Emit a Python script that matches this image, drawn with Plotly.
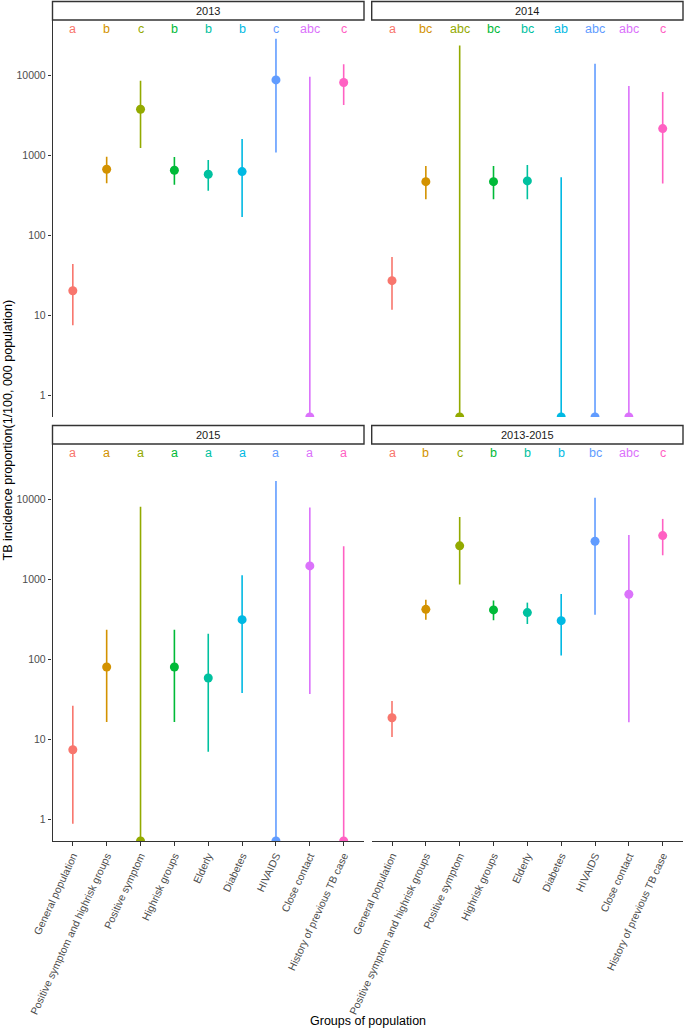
import plotly.graph_objects as go

categories = ["General population", "Positive symptom and highrisk groups", "Positive symptom",
              "Highrisk groups", "Elderly", "Diabetes", "HIVAIDS", "Close contact",
              "History of previous TB case"]
colors = ["#F8766D", "#D39200", "#93AA00", "#00BA38", "#00C19F", "#00B9E3", "#619CFF", "#DB72FB", "#FF61C3"]
panels = ["2013", "2014", "2015", "2013-2015"]

# 0 means zero incidence (drawn at the bottom edge of the log axis)
est_2013 = [20.5, 676, 3800, 657, 586, 631, 8830, 0, 8180]
low_2013 = [7.6, 452, 1248, 434, 365, 171, 1090, 0, 4300]
up_2013 = [44.3, 971, 8590, 964, 883, 1617, 28750, 9640, 13880]
let_2013 = ["a", "b", "c", "b", "b", "b", "c", "abc", "c"]

est_2014 = [27.4, 473, 0, 473, 483, 0, 0, 0, 2175]
low_2014 = [11.9, 285, 0, 285, 285, 0, 0, 0, 447]
up_2014 = [54.2, 743, 23700, 743, 765, 537, 14000, 7430, 6250]
let_2014 = ["a", "bc", "abc", "bc", "bc", "ab", "abc", "abc", "c"]

est_2015 = [7.5, 81, 0, 81, 59, 316, 0, 1483, 0]
low_2015 = [0.89, 16.6, 0, 16.6, 7.1, 38.3, 0, 37.3, 0]
up_2015 = [26.6, 237, 8110, 237, 211, 1132, 17100, 7940, 2610]
let_2015 = ["a", "a", "a", "a", "a", "a", "a", "a", "a"]

est_all = [18.8, 425, 2640, 418, 387, 307, 3010, 656, 3550]
low_all = [10.8, 316, 866, 310, 279, 113, 365, 16.5, 2013]
up_all = [30.4, 562, 6070, 547, 516, 663, 10500, 3615, 5730]
let_all = ["a", "b", "c", "b", "b", "b", "bc", "abc", "c"]

y_tickvals = [1, 10, 100, 1000, 10000]
y_ticktext = ["1", "10", "100", "1000", "10000"]

data = {
    "2013": (est_2013, low_2013, up_2013, let_2013),
    "2014": (est_2014, low_2014, up_2014, let_2014),
    "2015": (est_2015, low_2015, up_2015, let_2015),
    "2013-2015": (est_all, low_all, up_all, let_all),
}

W, H = 685, 1032
YMIN, YMAX = -0.265, 4.694
FLOOR = 10 ** YMIN

# panel geometry in pixels
xdom_px = [(52.5, 364.0), (371.7, 683.0)]
ydom_px = [(20.0, 417.0), (444.0, 841.0)]
strip_px = [(1.5, 20.0), (425.5, 444.0)]

FONT = "Liberation Sans, Arial, Helvetica, sans-serif"

def fx(px):
    return px / W

def fy(px):
    return 1 - px / H

fig = go.Figure()
layout = dict(width=W, height=H, margin=dict(l=0, r=0, t=0, b=0, pad=0),
              template="none", autosize=False,
              paper_bgcolor="white", plot_bgcolor="white", showlegend=False,
              font=dict(family=FONT, color="#4D4D4D"))
shapes = []
annotations = []

for i, name in enumerate(panels):
    row, col = divmod(i, 2)
    ax = "" if i == 0 else str(i + 1)
    xa, ya = "x" + ax, "y" + ax
    est, low, up, lets = data[name]
    for j, cat in enumerate(categories):
        lo = low[j] if low[j] > 0 else FLOOR
        hi = up[j] if up[j] > 0 else FLOOR
        fig.add_trace(go.Scatter(x=[cat, cat], y=[lo, hi], mode="lines",
                                 line=dict(color=colors[j], width=1.6),
                                 xaxis=xa, yaxis=ya, hoverinfo="skip"))
    pts = [e if e > 0 else FLOOR for e in est]
    fig.add_trace(go.Scatter(x=categories, y=pts, mode="markers",
                             marker=dict(color=colors, size=9, line=dict(width=0)),
                             xaxis=xa, yaxis=ya, cliponaxis=True))
    for j, cat in enumerate(categories):
        annotations.append(dict(x=cat, y=1, xref=xa, yref=ya + " domain", text=lets[j],
                                showarrow=False, yshift=-8.5, yanchor="middle",
                                font=dict(size=12.5, color=colors[j], family=FONT)))
    x0, x1 = xdom_px[col]
    y0, y1 = ydom_px[row]
    bottom = row == 1
    left = col == 0
    layout["xaxis" + ax] = dict(domain=[fx(x0), fx(x1)], anchor=ya, type="category",
                                categoryorder="array", categoryarray=categories,
                                range=[-0.6, 8.6], showgrid=False, zeroline=False,
                                automargin=False,
                                showline=bottom, linecolor="#333333", linewidth=1.4,
                                ticks="outside" if bottom else "", ticklen=3.5,
                                tickcolor="#333333", tickwidth=1.1,
                                showticklabels=bottom, tickangle=-65,
                                tickfont=dict(size=10.5, color="#4D4D4D", family=FONT))
    layout["yaxis" + ax] = dict(domain=[fy(y1), fy(y0)], anchor=xa, type="log",
                                range=[YMIN, YMAX], showgrid=False, zeroline=False,
                                automargin=False,
                                showline=left, linecolor="#333333", linewidth=1.4,
                                ticks="outside" if left else "", ticklen=3.5,
                                tickcolor="#333333", tickwidth=1.1,
                                tickvals=y_tickvals, ticktext=y_ticktext,
                                showticklabels=left,
                                tickfont=dict(size=10.5, color="#4D4D4D", family=FONT))
    s0, s1 = strip_px[row]
    shapes.append(dict(type="rect", xref="paper", yref="paper",
                       x0=fx(x0), x1=fx(x1), y0=fy(s1), y1=fy(s0),
                       line=dict(color="#333333", width=1.4), fillcolor="white"))
    annotations.append(dict(x=fx((x0 + x1) / 2), y=fy((s0 + s1) / 2), xref="paper", yref="paper",
                            text=name, showarrow=False, xanchor="center", yanchor="middle",
                            font=dict(size=11, color="#1A1A1A", family=FONT)))

annotations.append(dict(x=fx(8), y=fy((20 + 841) / 2), xref="paper", yref="paper",
                        text="TB incidence proportion(1/100, 000 population)", textangle=-90,
                        showarrow=False, xanchor="center", yanchor="middle",
                        font=dict(size=12.5, color="#000000", family=FONT)))
annotations.append(dict(x=fx((52.5 + 683) / 2), y=fy(1021), xref="paper", yref="paper",
                        text="Groups of population", showarrow=False,
                        xanchor="center", yanchor="middle",
                        font=dict(size=12.5, color="#000000", family=FONT)))

layout["shapes"] = shapes
layout["annotations"] = annotations
fig.update_layout(**layout)
fig.write_html("out.html", config={"displayModeBar": False},
               post_script="document.body.style.margin='0';document.body.style.padding='0';")
